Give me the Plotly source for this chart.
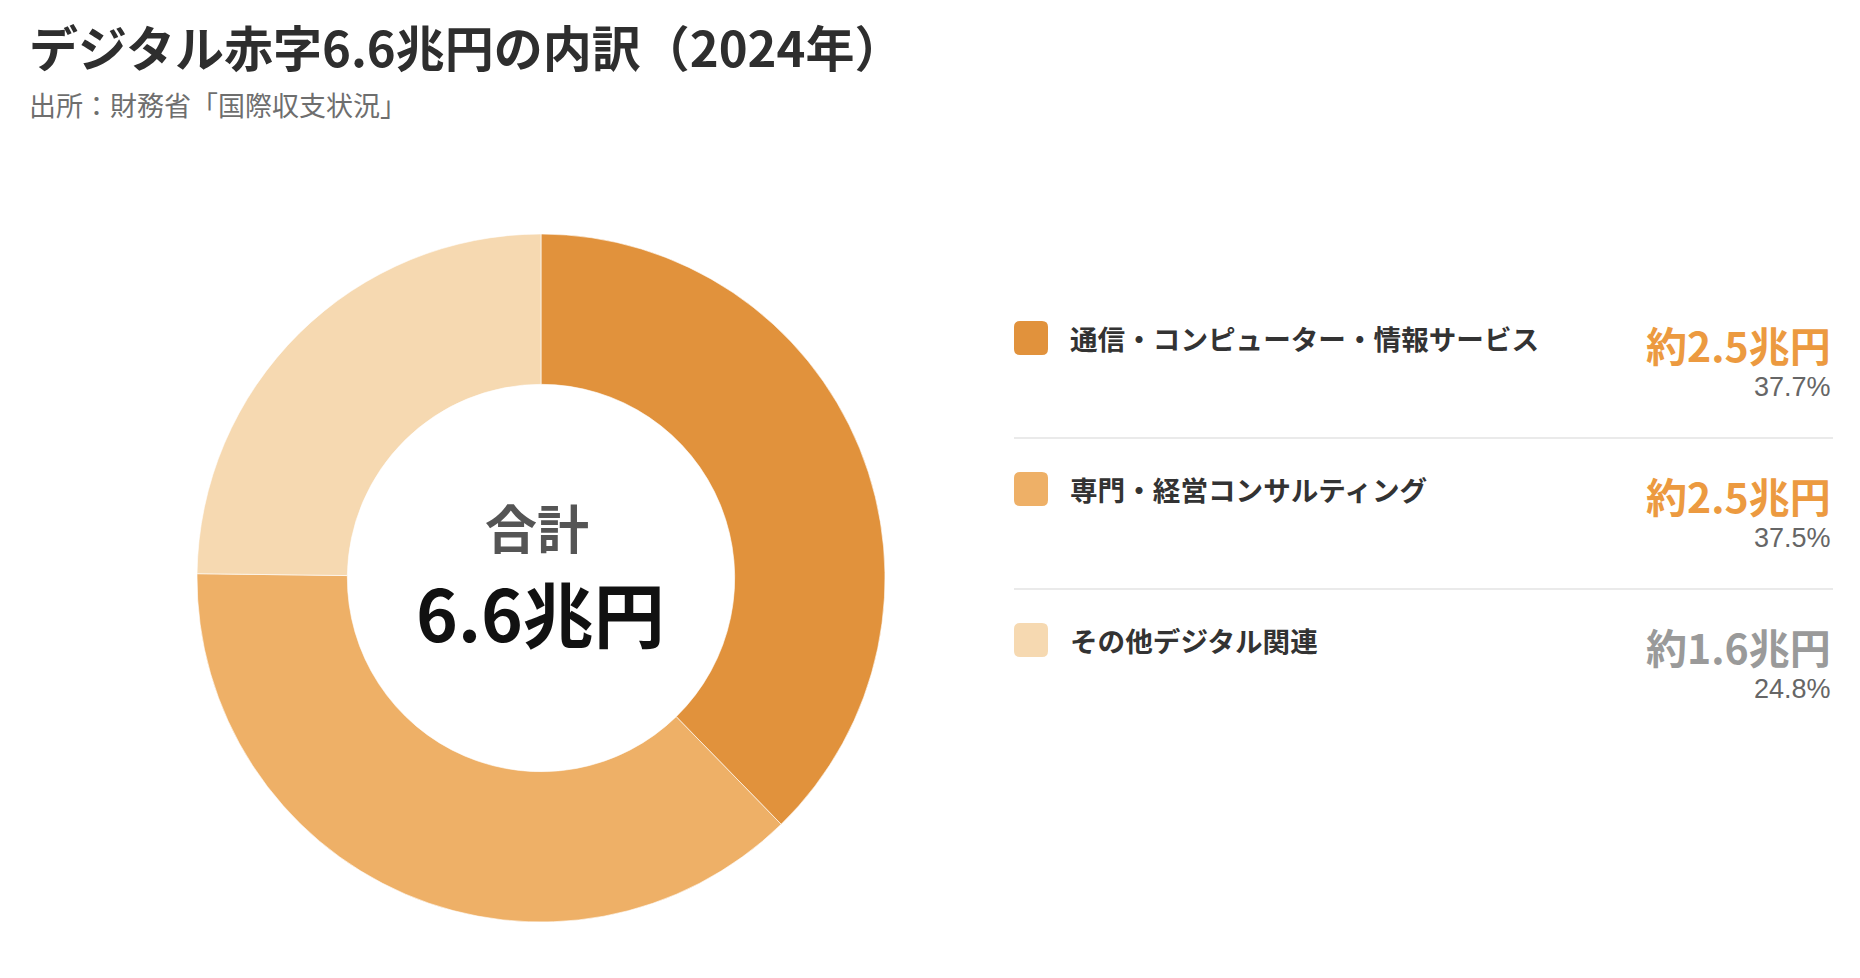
import plotly.graph_objects as go

W, H = 1860, 978
OFF = 8  # browser body margin: screen px = figure px + 8

title = "デジタル赤字6.6兆円の内訳（2024年）"
source = "出所：財務省「国際収支状況」"

categories = ["通信・コンピューター・情報サービス", "専門・経営コンサルティング", "その他デジタル関連"]
amounts = [2.5, 2.5, 1.6]          # 兆円 (approx.)
shares = [37.7, 37.5, 24.8]        # %
total = 6.6

slice_colors = ["#E1923C", "#EEB067", "#F6D9B1"]
value_colors = ["#EC9A40", "#EC9A40", "#9A9A9A"]

JP = "Noto Sans CJK JP"


def rounded_rect(x, y, w, h, r):
    return (
        f"M {x + r},{y} L {x + w - r},{y} Q {x + w},{y} {x + w},{y + r} "
        f"L {x + w},{y + h - r} Q {x + w},{y + h} {x + w - r},{y + h} "
        f"L {x + r},{y + h} Q {x},{y + h} {x},{y + h - r} "
        f"L {x},{y + r} Q {x},{y} {x + r},{y} Z"
    )


# donut geometry (screen pixels)
cx, cy, R = 541, 578, 344
px, py = cx - OFF, cy - OFF

fig = go.Figure()
fig.add_trace(
    go.Pie(
        labels=categories,
        values=shares,
        hole=0.563,
        sort=False,
        direction="clockwise",
        rotation=0,
        textinfo="none",
        hoverinfo="label+percent",
        marker=dict(colors=slice_colors, line=dict(color="rgba(255,255,255,0.6)", width=1)),
        domain=dict(x=[(px - R) / W, (px + R) / W], y=[(H - py - R) / H, (H - py + R) / H]),
        showlegend=False,
    )
)

annotations = [
    dict(x=27, y=45, text=f"<b>{title}</b>", xanchor="left", yanchor="middle",
         font=dict(family=JP, size=49, color="#2E2E2E")),
    dict(x=27, y=104, text=source, xanchor="left", yanchor="middle",
         font=dict(family=JP, size=27, color="#6E6E6E")),
    dict(x=cx - 4, y=526, text="<b>合計</b>", xanchor="center", yanchor="middle",
         font=dict(family=JP, size=52, color="#555555")),
    dict(x=cx - 1, y=611, text=f"<b>{total}兆円</b>", xanchor="center", yanchor="middle",
         font=dict(family=JP, size=71, color="#111111")),
]
shapes = []

row_top, row_step = 321, 151
left, right = 1014, 1833
for i, (cat, amt, sh) in enumerate(zip(categories, amounts, shares)):
    top = row_top + i * row_step
    shapes.append(dict(type="path", path=rounded_rect(left, top, 34, 34, 6),
                       xref="x", yref="y", fillcolor=slice_colors[i], line=dict(width=0)))
    annotations.append(dict(x=left + 54, y=top + 17, text=f"<b>{cat}</b>",
                            xanchor="left", yanchor="middle",
                            font=dict(family=JP, size=27.6, color="#333333")))
    annotations.append(dict(x=right, y=top + 23, text=f"<b>約{amt}兆円</b>",
                            xanchor="right", yanchor="middle",
                            font=dict(family=JP, size=41, color=value_colors[i])))
    annotations.append(dict(x=right, y=top + 66, text=f"{sh}%",
                            xanchor="right", yanchor="middle",
                            font=dict(family="Liberation Sans", size=27, color="#666666")))
    if i < len(categories) - 1:
        shapes.append(dict(type="line", x0=left, x1=right, y0=top + 117, y1=top + 117,
                           xref="x", yref="y", line=dict(color="#EAEAEA", width=2)))

for a in annotations:
    a.setdefault("xref", "x")
    a.setdefault("yref", "y")
    a["showarrow"] = False

fig.update_layout(
    width=W,
    height=H,
    margin=dict(l=0, r=0, t=0, b=0),
    paper_bgcolor="white",
    plot_bgcolor="rgba(0,0,0,0)",
    xaxis=dict(range=[OFF, W + OFF], visible=False, fixedrange=True),
    yaxis=dict(range=[H + OFF, OFF], visible=False, fixedrange=True),
    annotations=annotations,
    shapes=shapes,
)

fig.write_html("out.html", config={"displayModeBar": False})
